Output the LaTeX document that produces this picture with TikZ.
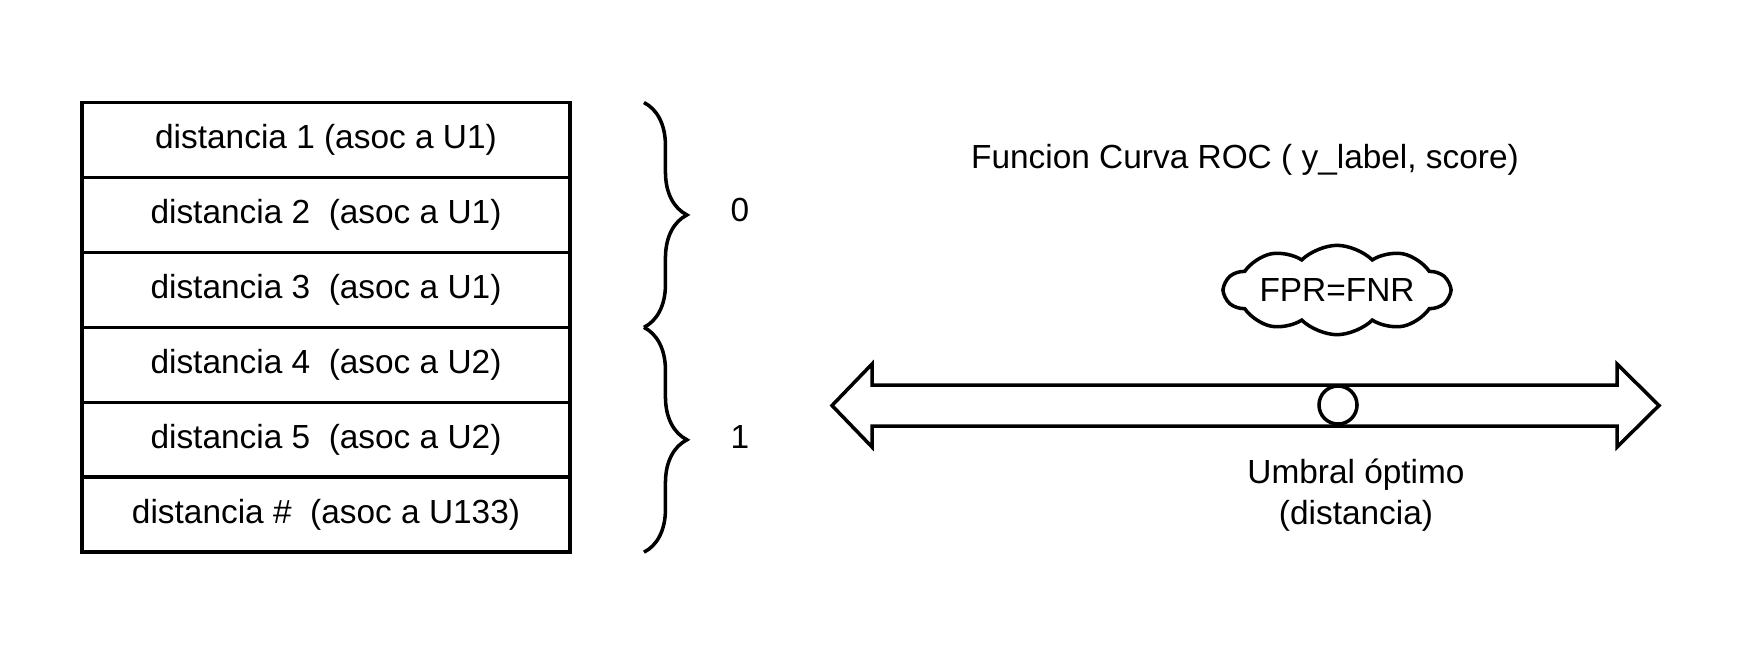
\documentclass[tikz,border=0pt]{standalone}
\usepackage{fontspec}
\setmainfont{Liberation Sans}
\usetikzlibrary{positioning,shapes.symbols,decorations.pathreplacing}

\begin{document}
\begin{tikzpicture}[
    x=0.01cm, y=-0.01cm,
    font=\fontsize{9.5}{11.7}\selectfont,
    node distance=0pt,
    linea/.style={line width=1pt},
    fila/.style={rectangle, draw, linea, minimum width=4.875cm, minimum height=0.749cm, outer sep=0pt, inner sep=0pt},
    llave/.style={decorate, decoration={brace, amplitude=0.43cm}, linea},
    etiqueta/.style={inner sep=0pt, align=center},
    nube/.style={cloud, draw, linea, cloud puffs=10, cloud puff arc=90, aspect=3.4, minimum width=2.25cm, minimum height=0.79cm, inner sep=0pt},
    umbral/.style={circle, draw, fill=white, linea, minimum size=0.38cm, inner sep=0pt}
]
    \useasboundingbox (0,0) rectangle (1749,654);

    % Tabla de distancias
    \node[fila] (d1) at (326,140) {distancia 1 (asoc a U1)};
    \node[fila, below=of d1] (d2) {distancia 2\ \ (asoc a U1)};
    \node[fila, below=of d2] (d3) {distancia 3\ \ (asoc a U1)};
    \node[fila, below=of d3] (d4) {distancia 4\ \ (asoc a U2)};
    \node[fila, below=of d4] (d5) {distancia 5\ \ (asoc a U2)};
    \node[fila, below=of d5] (d6) {distancia \#\ \ (asoc a U133)};

    % Llaves
    \draw[llave] ([xshift=0.74cm]d1.north east) -- ([xshift=0.74cm]d3.south east);
    \draw[llave] ([xshift=0.74cm]d4.north east) -- ([xshift=0.74cm]d6.south east);
    \node[etiqueta] (cero) at (740,210) {0};
    \node[etiqueta] (uno) at (740,437) {1};

    % Curva ROC
    \node[etiqueta] (titulo) at (1245,160) {Funcion Curva ROC ( y\_label, score)};
    \node[nube] (igual) at (1337,290) {FPR=FNR};
    \coordinate (eje) at (1245.5,405.5);
    \draw[linea, line join=miter] (eje) ++(-413.5,0) -- ++(40,-41.5) -- ++(0,21) -- ++(745,0) -- ++(0,-21)
        -- ++(42,41.5) -- ++(-42,41.5) -- ++(0,-21) -- ++(-745,0) -- ++(0,21) -- cycle;
    \node[umbral] (punto) at (1338,405) {};
    \node[etiqueta] (optimo) at (1356,495) {Umbral óptimo\\(distancia)};
\end{tikzpicture}
\end{document}
